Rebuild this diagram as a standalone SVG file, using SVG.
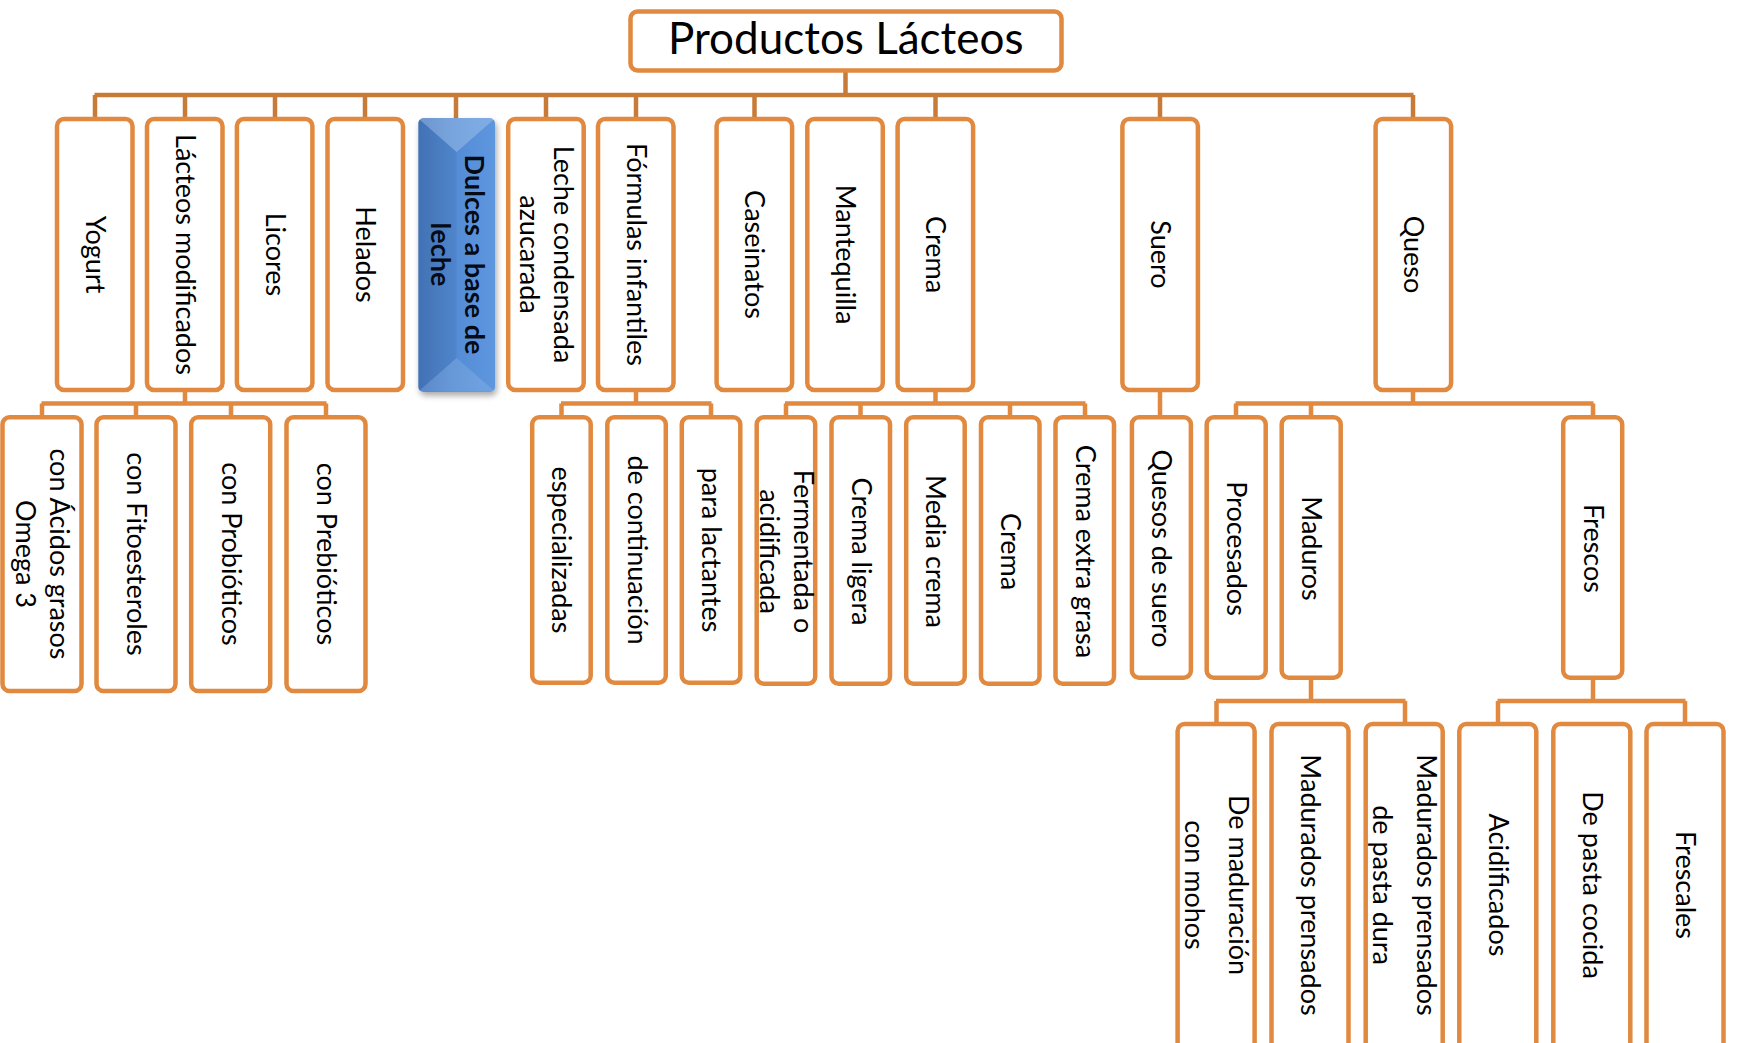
<svg xmlns="http://www.w3.org/2000/svg" width="1737" height="1043" viewBox="0 0 1737 1043">
<defs>
<style>
.box{fill:#fff;stroke:#E0893F;stroke-width:4.5}
.bus{fill:none;stroke:#C87B39;stroke-width:4.5}
.sub{fill:none;stroke:#E0893F;stroke-width:4.5}
.t{font-family:Lato,"Open Sans",sans-serif;font-size:27px;fill:#000;text-anchor:middle}
.title{font-family:Lato,"Open Sans",sans-serif;font-size:44px;fill:#000;text-anchor:middle}
.b{font-weight:bold;fill:#050a14}
</style>
<linearGradient id="blue" x1="0" y1="0" x2="1" y2="0">
<stop offset="0" stop-color="#4678bf"/>
<stop offset="0.5" stop-color="#548dd6"/>
<stop offset="1" stop-color="#5e97de"/>
</linearGradient>
<filter id="sh" x="-30%" y="-10%" width="160%" height="130%"><feGaussianBlur stdDeviation="3"/></filter>
</defs>
<rect width="1737" height="1043" fill="#fff"/>

<g id="connectors">
<path class="bus" d="M845.5 72V95M94.5 95H1413.5M95 95V117M185 95V117M275 95V117M365 95V117M456 95V118M546 95V117M636 95V117M754.5 95V117M935.5 95V117M1160 95V117M1413 95V117"/>
<path class="sub" d="M185 392V403.5M41.5 403.5H326.5M42 403.5V415M136 403.5V415M231 403.5V415M326 403.5V415"/>
<path class="sub" d="M636 392V403.5M561 403.5H711.5M561.5 403.5V415M711 403.5V415"/>
<path class="sub" d="M935.5 392V403.5M785 403.5H1085.5M786 403.5V415M860.5 403.5V415M1010 403.5V415M1085 403.5V415"/>
<path class="sub" d="M1160 392V415"/>
<path class="sub" d="M1413 392V403.5M1235.5 403.5H1593.5M1236 403.5V415M1311 403.5V415M1593 403.5V415"/>
<path class="sub" d="M1311 680V701M1216 701H1405.5M1216.5 701V722M1405 701V722"/>
<path class="sub" d="M1593 680V701M1497.5 701H1685.5M1498 701V722M1685 701V722"/>
</g>

<g id="root"><rect class="box" x="630.5" y="11.5" width="431" height="59" rx="7"/><text class="title" x="845.75" y="54.3">Productos Lácteos</text></g>

<g id="yogurt"><rect class="box" x="57" y="119" width="75.5" height="271" rx="7"/><text class="t" transform="translate(94.75,254.5) rotate(90)" y="9">Yogurt</text></g>
<g id="lacteos-modificados"><rect class="box" x="147" y="119" width="75.5" height="271" rx="7"/><text class="t" transform="translate(184.75,254.5) rotate(90)" y="9">Lácteos modificados</text></g>
<g id="licores"><rect class="box" x="236.9" y="119" width="75.5" height="271" rx="7"/><text class="t" transform="translate(274.65,254.5) rotate(90)" y="9">Licores</text></g>
<g id="helados"><rect class="box" x="327.5" y="119" width="75.5" height="271" rx="7"/><text class="t" transform="translate(365.25,254.5) rotate(90)" y="9">Helados</text></g>
<g id="dulces">
<rect x="420" y="122" width="76.7" height="273.4" rx="5" fill="#000" opacity="0.35" filter="url(#sh)"/>
<rect x="418.3" y="118.3" width="76.7" height="273.4" rx="5" fill="url(#blue)"/>
<polygon points="419,119 494.3,119 456.6,152" fill="#fff" opacity="0.22"/>
<polygon points="419,391 494.3,391 456.6,358" fill="#fff" opacity="0.12"/>
<polygon points="419,119 456.6,152 456.6,358 419,391" fill="#000" opacity="0.05"/>
<text class="t b" transform="translate(456.6,254.5) rotate(90)"><tspan x="0" y="-8">Dulces a base de</tspan><tspan x="0" y="26">leche</tspan></text>
</g>
<g id="leche-condensada"><rect class="box" x="508.2" y="119" width="75.5" height="271" rx="7"/><text class="t" transform="translate(545.95,254.5) rotate(90)"><tspan x="0" y="-8">Leche condensada</tspan><tspan x="0" y="26">azucarada</tspan></text></g>
<g id="formulas-infantiles"><rect class="box" x="598" y="119" width="75.5" height="271" rx="7"/><text class="t" transform="translate(635.75,254.5) rotate(90)" y="9">Fórmulas infantiles</text></g>
<g id="caseinatos"><rect class="box" x="716.6" y="119" width="75.5" height="271" rx="7"/><text class="t" transform="translate(754.35,254.5) rotate(90)" y="9">Caseinatos</text></g>
<g id="mantequilla"><rect class="box" x="807.3" y="119" width="75.5" height="271" rx="7"/><text class="t" transform="translate(845.05,254.5) rotate(90)" y="9">Mantequilla</text></g>
<g id="crema"><rect class="box" x="897.6" y="119" width="75.5" height="271" rx="7"/><text class="t" transform="translate(935.35,254.5) rotate(90)" y="9">Crema</text></g>
<g id="suero"><rect class="box" x="1122.4" y="119" width="75.5" height="271" rx="7"/><text class="t" transform="translate(1160.15,254.5) rotate(90)" y="9">Suero</text></g>
<g id="queso"><rect class="box" x="1375.6" y="119" width="75.5" height="271" rx="7"/><text class="t" transform="translate(1413.35,254.5) rotate(90)" y="9">Queso</text></g>

<g id="acidos-grasos"><rect class="box" x="2.5" y="417.25" width="79" height="273.8" rx="7"/><text class="t" transform="translate(42,554) rotate(90)"><tspan x="0" y="-8">con Ácidos grasos</tspan><tspan x="0" y="26">Omega 3</tspan></text></g>
<g id="fitoesteroles"><rect class="box" x="96.5" y="417.25" width="79" height="273.8" rx="7"/><text class="t" transform="translate(136,554) rotate(90)" y="9">con Fitoesteroles</text></g>
<g id="probioticos"><rect class="box" x="191.2" y="417.25" width="79" height="273.8" rx="7"/><text class="t" transform="translate(230.7,554) rotate(90)" y="9">con Probióticos</text></g>
<g id="prebioticos"><rect class="box" x="286.5" y="417.25" width="79" height="273.8" rx="7"/><text class="t" transform="translate(326,554) rotate(90)" y="9">con Prebióticos</text></g>

<g id="especializadas"><rect class="box" x="532.2" y="417.25" width="58.5" height="265.5" rx="7"/><text class="t" transform="translate(561.45,550) rotate(90)" y="9">especializadas</text></g>
<g id="continuacion"><rect class="box" x="607.3" y="417.25" width="58.5" height="265.5" rx="7"/><text class="t" transform="translate(636.55,550) rotate(90)" y="9">de continuación</text></g>
<g id="lactantes"><rect class="box" x="681.8" y="417.25" width="58.5" height="265.5" rx="7"/><text class="t" transform="translate(711.05,550) rotate(90)" y="9">para lactantes</text></g>

<g id="fermentada"><rect class="box" x="756.7" y="417.25" width="58.5" height="266.5" rx="7"/><text class="t" transform="translate(785.95,551.5) rotate(90)"><tspan x="0" y="-8">Fermentada o</tspan><tspan x="0" y="26">acidificada</tspan></text></g>
<g id="crema-ligera"><rect class="box" x="831.5" y="417.25" width="58.5" height="266.5" rx="7"/><text class="t" transform="translate(860.75,551.5) rotate(90)" y="9">Crema ligera</text></g>
<g id="media-crema"><rect class="box" x="906.2" y="417.25" width="58.5" height="266.5" rx="7"/><text class="t" transform="translate(935.45,551.5) rotate(90)" y="9">Media crema</text></g>
<g id="crema-2"><rect class="box" x="981" y="417.25" width="58.5" height="266.5" rx="7"/><text class="t" transform="translate(1010.25,551.5) rotate(90)" y="9">Crema</text></g>
<g id="crema-extra"><rect class="box" x="1055.5" y="417.25" width="58.5" height="266.5" rx="7"/><text class="t" transform="translate(1084.75,551.5) rotate(90)" y="9">Crema extra grasa</text></g>

<g id="quesos-suero"><rect class="box" x="1131.9" y="417.25" width="59" height="260.5" rx="7"/><text class="t" transform="translate(1161.4,548.5) rotate(90)" y="9">Quesos de suero</text></g>
<g id="procesados"><rect class="box" x="1206.7" y="417.25" width="59" height="260.5" rx="7"/><text class="t" transform="translate(1236.2,548.5) rotate(90)" y="9">Procesados</text></g>
<g id="maduros"><rect class="box" x="1281.7" y="417.25" width="59" height="260.5" rx="7"/><text class="t" transform="translate(1311.2,548.5) rotate(90)" y="9">Maduros</text></g>
<g id="frescos"><rect class="box" x="1563.2" y="417.25" width="59" height="260.5" rx="7"/><text class="t" transform="translate(1592.7,548.5) rotate(90)" y="9">Frescos</text></g>

<g id="maduracion-mohos"><rect class="box" x="1177.6" y="724" width="77" height="330" rx="7"/><text class="t" transform="translate(1216.1,885) rotate(90)"><tspan x="0" y="-13">De maduración</tspan><tspan x="0" y="31">con mohos</tspan></text></g>
<g id="madurados-prensados"><rect class="box" x="1271.5" y="724" width="77" height="330" rx="7"/><text class="t" transform="translate(1310,885) rotate(90)" y="9">Madurados prensados</text></g>
<g id="pasta-dura"><rect class="box" x="1365.7" y="724" width="77" height="330" rx="7"/><text class="t" transform="translate(1404.2,885) rotate(90)"><tspan x="0" y="-13">Madurados prensados</tspan><tspan x="0" y="31">de pasta dura</tspan></text></g>
<g id="acidificados"><rect class="box" x="1459.3" y="724" width="77" height="330" rx="7"/><text class="t" transform="translate(1497.8,885) rotate(90)" y="9">Acidificados</text></g>
<g id="pasta-cocida"><rect class="box" x="1553.3" y="724" width="77" height="330" rx="7"/><text class="t" transform="translate(1591.8,885) rotate(90)" y="9">De pasta cocida</text></g>
<g id="frescales"><rect class="box" x="1646.5" y="724" width="77" height="330" rx="7"/><text class="t" transform="translate(1685,885) rotate(90)" y="9">Frescales</text></g>
</svg>
